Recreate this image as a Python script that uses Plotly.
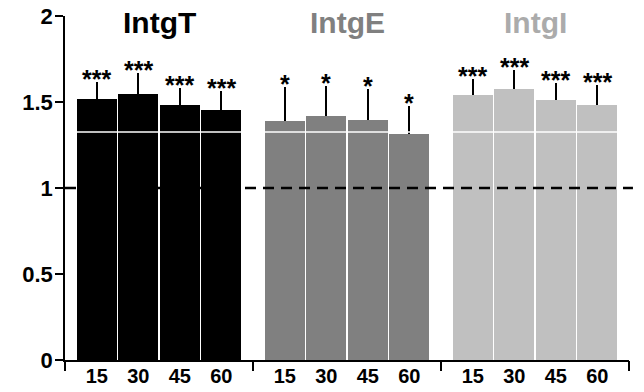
import plotly.graph_objects as go

# ---- data ----
groups = ["IntgT", "IntgE", "IntgI"]
times = ["15", "30", "45", "60"]
values = {
    "IntgT": [1.517, 1.545, 1.481, 1.452],
    "IntgE": [1.391, 1.419, 1.395, 1.314],
    "IntgI": [1.541, 1.574, 1.512, 1.481],
}
errors = {
    "IntgT": [0.101, 0.122, 0.098, 0.114],
    "IntgE": [0.194, 0.176, 0.181, 0.163],
    "IntgI": [0.091, 0.112, 0.096, 0.118],
}
stars = {
    "IntgT": ["***", "***", "***", "***"],
    "IntgE": ["*", "*", "*", "*"],
    "IntgI": ["***", "***", "***", "***"],
}
bar_colors = {"IntgT": "#000000", "IntgE": "#808080", "IntgI": "#c0c0c0"}
title_colors = {"IntgT": "#000000", "IntgE": "#808080", "IntgI": "#ababab"}
y_ticks = [0, 0.5, 1, 1.5, 2]
y_ticktext = ["0", "0.5", "1", "1.5", "2"]
reference_level = 1.0
white_line_level = 1.325

# ---- layout parameters ----
S = 4.53  # section width in bar units
Y_RANGE = [0, 2]
FONT = "Liberation Sans, Arial, Helvetica, sans-serif"

fig = go.Figure()
tick_x, tick_t, ann = [], [], []
for gi, g in enumerate(groups):
    xs = [gi * S + (S - 4) / 2 + 0.5 + j for j in range(len(times))]
    fig.add_trace(go.Bar(
        x=xs, y=values[g], width=0.96,
        marker=dict(color=bar_colors[g], line=dict(width=0)),
        error_y=dict(type="data", array=errors[g], arrayminus=[0] * len(times),
                     symmetric=False, color="black", thickness=2, width=0),
        showlegend=False, hoverinfo="skip",
    ))
    tick_x += xs
    tick_t += times
    for x, v, e, s in zip(xs, values[g], errors[g], stars[g]):
        ann.append(dict(x=x, y=v + e, xref="x", yref="y", text=s, showarrow=False,
                        yanchor="middle", yshift=3,
                        font=dict(family=FONT, size=25, color="black", weight="bold")))
    ann.append(dict(x=gi * S + S / 2, y=1, xref="x", yref="paper", text=g, showarrow=False,
                    yanchor="middle", yshift=-6,
                    font=dict(family=FONT, size=30, color=title_colors[g], weight="bold")))

# invisible trace for the section-tick axis
fig.add_trace(go.Scatter(x=[0, 3 * S], y=[0, 0], xaxis="x2", mode="markers",
                         marker=dict(opacity=0), showlegend=False, hoverinfo="skip"))

ref_y = (reference_level - Y_RANGE[0]) / (Y_RANGE[1] - Y_RANGE[0])
fig.add_shape(type="line", xref="x", yref="y", x0=0, x1=3 * S,
              y0=white_line_level, y1=white_line_level,
              line=dict(color="white", width=1.5), layer="above")
fig.add_shape(type="line", xref="paper", yref="paper", x0=0, x1=1.007,
              y0=ref_y, y1=ref_y,
              line=dict(color="black", width=2.5, dash="11px,7px"), layer="above")

fig.update_layout(
    width=644, height=392,
    margin=dict(l=65, r=15, t=16, b=32, autoexpand=False),
    paper_bgcolor="white", plot_bgcolor="white",
    bargap=0,
    annotations=ann,
    xaxis=dict(range=[0, 3 * S], tickvals=tick_x, ticktext=tick_t, ticks="", showgrid=False,
               zeroline=False, showline=True, linecolor="black", linewidth=1.5,
               automargin=False, ticklabelstandoff=-3,
               tickfont=dict(family=FONT, size=20, color="black", weight="bold")),
    xaxis2=dict(range=[0, 3 * S], overlaying="x", anchor="y", side="bottom",
                tickvals=[0, S, 2 * S, 3 * S], ticks="outside", ticklen=10, tickwidth=1.5,
                tickcolor="black", showticklabels=False, showgrid=False, zeroline=False,
                showline=False, automargin=False),
    yaxis=dict(range=Y_RANGE, tickvals=y_ticks, ticktext=y_ticktext, ticks="outside",
               ticklen=8, tickwidth=1.5, tickcolor="black", showgrid=False, zeroline=False,
               showline=True, linecolor="black", linewidth=1.5, automargin=False,
               ticklabelstandoff=-2,
               tickfont=dict(family=FONT, size=22, color="black", weight="bold")),
)

fig.write_html("out.html", config={"displayModeBar": False},
               post_script="document.body.style.margin='0';document.body.style.overflow='hidden';")
